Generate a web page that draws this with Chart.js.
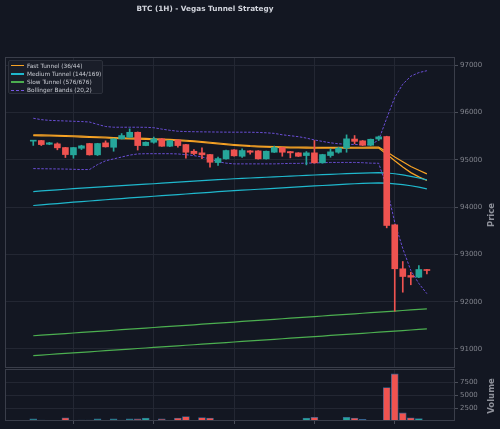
<!DOCTYPE html>
<html><head><meta charset="utf-8">
<script src="https://cdn.jsdelivr.net/npm/chart.js@4.4.1/dist/chart.umd.min.js"></script>
<style>
html,body{margin:0;padding:0;background:#131722;}
#wrap{position:relative;width:500px;height:429px;overflow:hidden;background:#131722;font-family:"DejaVu Sans",sans-serif;}
canvas{position:absolute;left:0;}
#c1{top:0;}
#c2{top:369px;}
#title{position:absolute;left:0;width:410px;top:3.5px;text-align:center;font-weight:bold;font-size:7.3px;line-height:10px;color:#d1d4dc;}
#legend{position:absolute;left:8px;top:60px;width:95px;height:34px;box-sizing:border-box;background:#1a1e29;border:1px solid #2c303b;border-radius:2px;padding-top:0.5px;}
.row{position:relative;height:8.2px;line-height:8.2px;font-size:5.8px;color:#c9ccd3;padding-left:18px;white-space:nowrap;}
.sw{position:absolute;left:1.5px;top:3.5px;width:13px;height:1.4px;}
.ax{position:absolute;font-weight:bold;font-size:8.5px;color:#8e919a;transform:translate(-50%,-50%) rotate(-90deg);white-space:nowrap;}
</style></head>
<body><div id="wrap">
<canvas id="c1" width="500" height="369"></canvas>
<canvas id="c2" width="500" height="60"></canvas>
<div id="title">BTC (1H) - Vegas Tunnel Strategy</div>
<div id="legend">
 <div class="row"><span class="sw" style="background:#f7a325"></span>Fast Tunnel (36/44)</div>
 <div class="row"><span class="sw" style="background:#1fb8cd"></span>Medium Tunnel (144/169)</div>
 <div class="row"><span class="sw" style="background:#4caf50"></span>Slow Tunnel (576/676)</div>
 <div class="row"><span class="sw" style="background:repeating-linear-gradient(90deg,#7557e0 0 3px,transparent 3px 5px)"></span>Bollinger Bands (20,2)</div>
</div>
<div class="ax" style="left:491px;top:215px;">Price</div>
<div class="ax" style="left:491px;top:395.5px;">Volume</div>
</div>
<script>
const opens  = [95395,95408,95330,95338,95260,95106,95245,95345,95106,95359,95266,95444,95478,95583,95302,95372,95444,95288,95419,95323,95182,95148,95112,94943,95021,95211,95076,95190,95190,95021,95161,95260,95175,95148,95091,95148,94937,95091,95161,95250,95440,95402,95309,95440,95493,93626,92696,92554,92518,92681];
const highs  = [95412,95412,95370,95359,95265,95265,95309,95350,95350,95402,95450,95556,95655,95590,95380,95482,95450,95412,95425,95328,95218,95254,95118,95059,95205,95215,95233,95195,95195,95187,95292,95265,95180,95152,95175,95408,95118,95233,95266,95528,95514,95410,95440,95503,95500,93630,92850,92624,92766,92685];
const lows   = [95305,95302,95320,95212,95049,95034,95218,95100,95091,95270,95182,95440,95475,95207,95298,95351,95285,95280,95270,95034,95112,95027,94844,94880,95015,95080,95049,95118,95015,95015,95155,95076,95042,95070,94894,94930,94930,95055,95140,95161,95338,95300,95300,95408,93562,91799,92201,92358,92510,92590];
const closes = [95410,95323,95360,95254,95112,95260,95296,95106,95345,95275,95444,95514,95583,95302,95372,95444,95288,95408,95302,95161,95133,95106,94949,95027,95197,95085,95197,95161,95021,95182,95260,95161,95148,95076,95148,94937,95112,95169,95250,95444,95391,95309,95435,95486,93612,92696,92533,92518,92681,92660];
const volumes = [400,200,50,50,600,50,200,200,400,50,400,200,400,400,550,50,400,50,550,850,150,650,550,150,50,150,50,50,50,150,150,50,50,50,550,700,50,150,50,700,550,300,50,50,6430,9050,1550,600,460,50];
const fast36 = [95512,95508,95504,95500,95494,95488,95482,95476,95470,95462,95454,95448,95444,95440,95434,95428,95422,95414,95406,95396,95384,95370,95354,95338,95322,95307,95294,95282,95274,95267,95262,95258,95254,95252,95250,95248,95247,95246,95246,95247,95248,95248,95249,95250,95120,94980,94850,94730,94640,94562];
const fast44 = [95530,95526,95522,95518,95512,95506,95500,95494,95488,95480,95472,95466,95462,95458,95452,95446,95440,95432,95424,95414,95402,95388,95372,95356,95340,95325,95312,95300,95292,95285,95280,95276,95272,95270,95268,95266,95265,95264,95264,95265,95266,95266,95267,95268,95170,95060,94960,94860,94780,94704];
const med144 = [94330,94342,94354,94366,94378,94390,94401,94412,94423,94434,94445,94455,94465,94475,94485,94495,94506,94517,94528,94539,94550,94560,94570,94580,94590,94600,94608,94616,94624,94632,94640,94648,94656,94664,94672,94680,94687,94694,94701,94708,94715,94720,94725,94730,94722,94706,94682,94652,94616,94577];
const med169 = [94034,94048,94062,94076,94090,94104,94117,94130,94143,94156,94169,94182,94194,94206,94218,94230,94242,94254,94266,94278,94290,94302,94314,94326,94337,94348,94358,94368,94378,94388,94398,94408,94418,94428,94438,94448,94458,94467,94476,94485,94494,94502,94508,94512,94506,94493,94475,94452,94422,94387];
const slow576 = [91280,91292,91303,91315,91326,91338,91350,91361,91373,91384,91396,91408,91419,91431,91442,91454,91466,91477,91489,91500,91512,91524,91535,91547,91558,91570,91582,91593,91605,91616,91628,91640,91651,91663,91674,91686,91698,91709,91721,91732,91744,91756,91767,91779,91790,91802,91814,91826,91838,91850];
const slow676 = [90860,90872,90883,90895,90906,90918,90929,90941,90952,90964,90975,90987,90998,91010,91021,91033,91044,91056,91067,91079,91090,91102,91113,91125,91136,91148,91159,91171,91182,91194,91205,91217,91228,91240,91251,91263,91274,91286,91297,91309,91320,91332,91343,91355,91366,91378,91390,91402,91414,91425];
const bbUpper = [95880,95850,95835,95828,95822,95816,95810,95800,95750,95705,95690,95690,95690,95690,95688,95680,95650,95625,95605,95598,95595,95592,95590,95588,95586,95585,95585,95584,95580,95572,95560,95530,95510,95490,95460,95420,95390,95360,95340,95330,95325,95320,95318,95420,95880,96320,96600,96770,96845,96885];
const bbLower = [94815,94812,94810,94808,94805,94800,94795,94795,94900,94980,95020,95060,95100,95125,95130,95130,95130,95130,95125,95110,95090,95060,95020,94960,94930,94915,94915,94915,94915,94915,94915,94920,94925,94925,94930,94935,94940,94945,94945,94945,94945,94940,94930,94928,94420,93675,93125,92660,92385,92170];
const xTicks = [0,10,20,30,40,50];
const priceTicks = [91000,92000,93000,94000,95000,96000,97000];
const volumeTicks = [2500,5000,7500];

const UP = '#26a69a', DOWN = '#ef5350';
const BG = '#131722', GRID = '#232733', FRAME = '#3a3e4a', TICKC = '#4a4e59', LABEL = '#80838c';
const idx = opens.map((_, i) => i);
const candleColor = idx.map(i => closes[i] >= opens[i] ? UP : DOWN);
const pts = arr => arr.map((v, i) => ({x: i, y: v}));

const framePlugin = {
  id: 'frame',
  afterDraw(chart) {
    const {ctx, chartArea: a} = chart;
    ctx.save();
    ctx.strokeStyle = FRAME; ctx.lineWidth = 1;
    ctx.strokeRect(Math.round(a.left) + 0.5, Math.round(a.top) + 0.5, Math.round(a.right - a.left) - 1, Math.round(a.bottom - a.top) - 1);
    ctx.restore();
  }
};
const bgPlugin = {
  id: 'bg',
  beforeDraw(chart) {
    const {ctx} = chart;
    ctx.save(); ctx.fillStyle = BG; ctx.fillRect(0, 0, chart.width, chart.height); ctx.restore();
  }
};

const xMin = -3.52, xMax = 52.5;
const font = {family: 'DejaVu Sans', size: 7};
const fitY = s => { s.width = 45; s.paddingTop = 0; s.paddingBottom = 0; };
const fitX = h => s => { s.height = h; s.paddingLeft = 0; s.paddingRight = 0; };

const lineDs = (label, arr, color, extra) => Object.assign({
  type: 'line', label, data: pts(arr), borderColor: color, borderWidth: 1.2,
  pointRadius: 0, tension: 0, fill: false, order: 2
}, extra || {});

new Chart(document.getElementById('c1'), {
  type: 'bar',
  data: {
    datasets: [
      {type: 'bar', label: 'wick', data: idx.map(i => ({x: i, y: [lows[i], highs[i]]})), backgroundColor: candleColor, barThickness: 1, grouped: false, order: 1},
      {type: 'bar', label: 'body', data: idx.map(i => ({x: i, y: [opens[i], closes[i]]})), backgroundColor: candleColor, barThickness: 6, minBarLength: 1, grouped: false, order: 0},
      lineDs('BB upper', bbUpper, '#6a4ed6', {borderDash: [2.5, 1.5], borderWidth: 1, order: 5}),
      lineDs('BB lower', bbLower, '#6a4ed6', {borderDash: [2.5, 1.5], borderWidth: 1, order: 5}),
      lineDs('Slow 576', slow576, '#4caf50'),
      lineDs('Slow 676', slow676, '#4caf50'),
      lineDs('Medium 144', med144, '#1fb8cd'),
      lineDs('Medium 169', med169, '#1fb8cd'),
      lineDs('Fast 44', fast44, '#f7a325'),
      lineDs('Fast 36', fast36, '#f7a325')
    ]
  },
  options: {
    responsive: false, animation: false,
    layout: {padding: {top: 57, left: 5, right: 0, bottom: 1}},
    plugins: {legend: {display: false}, tooltip: {enabled: false}, title: {display: false}},
    scales: {
      x: {
        type: 'linear', min: xMin, max: xMax, offset: false,
        afterBuildTicks: s => { s.ticks = xTicks.map(v => ({value: v})); },
        afterFit: fitX(0),
        ticks: {display: false},
        grid: {color: GRID, drawTicks: false},
        border: {display: false}
      },
      y: {
        type: 'linear', position: 'right', min: 90598, max: 97175,
        afterBuildTicks: s => { s.ticks = priceTicks.map(v => ({value: v})); },
        afterFit: fitY,
        ticks: {color: LABEL, font, padding: 2, callback: v => String(v)},
        grid: {color: GRID, tickColor: TICKC, tickLength: 3},
        border: {display: false}
      }
    }
  },
  plugins: [bgPlugin, framePlugin]
});

new Chart(document.getElementById('c2'), {
  type: 'bar',
  data: {
    datasets: [{
      label: 'Volume', data: pts(volumes), backgroundColor: candleColor,
      borderColor: '#35628f', borderWidth: 0.8, borderSkipped: false, barThickness: 7, grouped: false
    }]
  },
  options: {
    responsive: false, animation: false,
    layout: {padding: {top: 0, left: 5, right: 0, bottom: 0}},
    plugins: {legend: {display: false}, tooltip: {enabled: false}},
    scales: {
      x: {
        type: 'linear', min: xMin, max: xMax, offset: false,
        afterBuildTicks: s => { s.ticks = xTicks.map(v => ({value: v})); },
        afterFit: fitX(8),
        ticks: {display: false},
        grid: {color: GRID, tickColor: TICKC, tickLength: 3, drawTicks: true},
        border: {display: false}
      },
      y: {
        type: 'linear', position: 'right', min: 0, max: 10000,
        afterBuildTicks: s => { s.ticks = volumeTicks.map(v => ({value: v})); },
        afterFit: fitY,
        ticks: {color: LABEL, font, padding: 2, callback: v => String(v)},
        grid: {color: GRID, tickColor: TICKC, tickLength: 3},
        border: {display: false}
      }
    }
  },
  plugins: [bgPlugin, framePlugin]
});
</script>
</body></html>
